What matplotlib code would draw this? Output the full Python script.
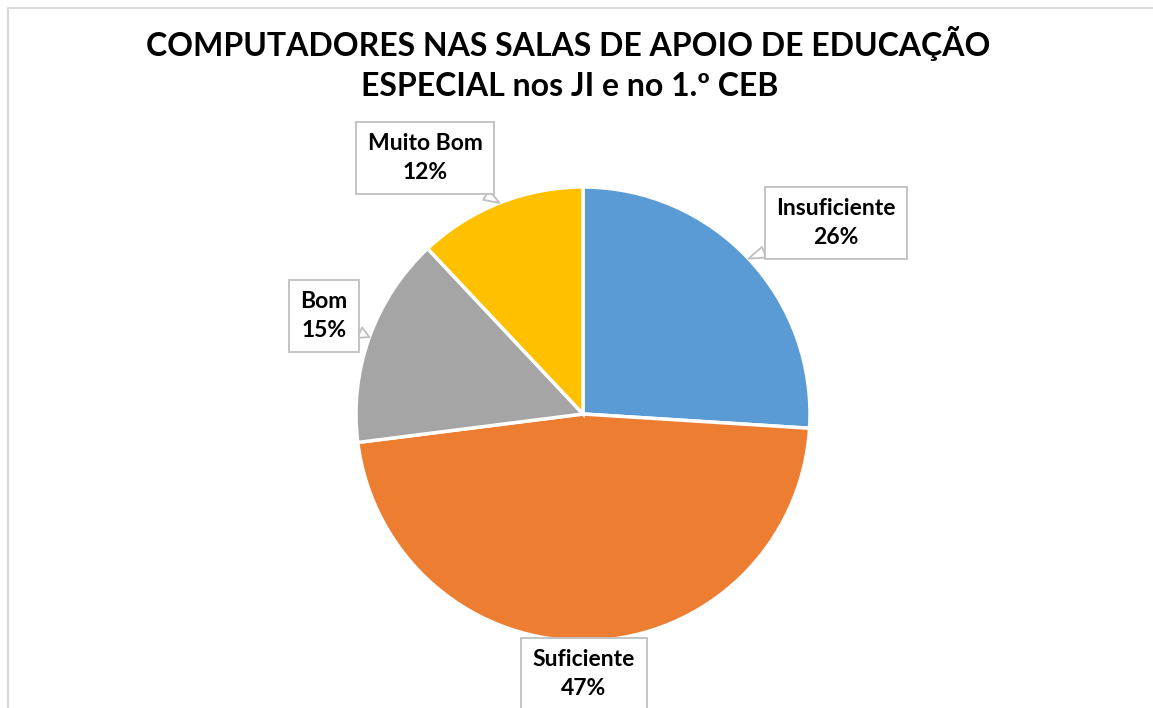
import matplotlib.pyplot as plt
import numpy as np

# Avaliação dos computadores nas salas de apoio (JI e 1.º CEB)
categorias = ["Insuficiente", "Suficiente", "Bom", "Muito Bom"]
percentagens = [26, 47, 15, 12]
cores = ["#5B9BD5", "#ED7D31", "#A5A5A5", "#FFC000"]

titulo = ["COMPUTADORES NAS SALAS DE APOIO DE EDUCAÇÃO",
          "ESPECIAL nos JI e no 1.º CEB"]

H = 708
# label box centres in pixels from top-left (layout only)
pos_rotulos = [(836, 223), (584, 674), (324, 316), (425, 158)]

plt.rcParams['font.family'] = ['Lato', 'DejaVu Sans']

fig = plt.figure(figsize=(11.53, 7.08), dpi=100)
ax = fig.add_axes([0, 0, 1, 1])

cx, cy, r = 583, H - 414, 227
wedges, _ = ax.pie(percentagens, colors=cores, startangle=90, counterclock=False,
                   center=(cx, cy), radius=r, frame=True,
                   wedgeprops=dict(edgecolor='white', linewidth=2.5))
ax.set_xlim(0, 1153)
ax.set_ylim(0, H)
ax.set_aspect('equal')
ax.axis('off')

# chart border
ax.plot([8, 8, 1153], [0, H - 8, H - 8], color='#D9D9D9', lw=1.5, clip_on=False)

ax.text(568, H - 56, titulo[0], ha='center', va='baseline',
        fontsize=23, fontweight='bold', color='black')
ax.text(570, H - 96, titulo[1], ha='center', va='baseline',
        fontsize=23, fontweight='bold', color='black')

for w, cat, p, (tx, ty) in zip(wedges, categorias, percentagens, pos_rotulos):
    ang = np.deg2rad((w.theta1 + w.theta2) / 2)
    px = cx + r * np.cos(ang)
    py = cy + r * np.sin(ang)
    ax.annotate(f"{cat}\n{p}%", xy=(px, py), xytext=(tx, H - ty),
                ha='center', va='center', fontsize=16.5, fontweight='bold',
                linespacing=1.45, zorder=5,
                bbox=dict(boxstyle='square,pad=0.5', fc='white', ec='#BFBFBF', lw=1.3),
                arrowprops=dict(arrowstyle='wedge,tail_width=0.5', fc='white',
                                ec='#BFBFBF', lw=1.3, shrinkA=0, shrinkB=0))

fig.savefig("out.png", dpi=100)
